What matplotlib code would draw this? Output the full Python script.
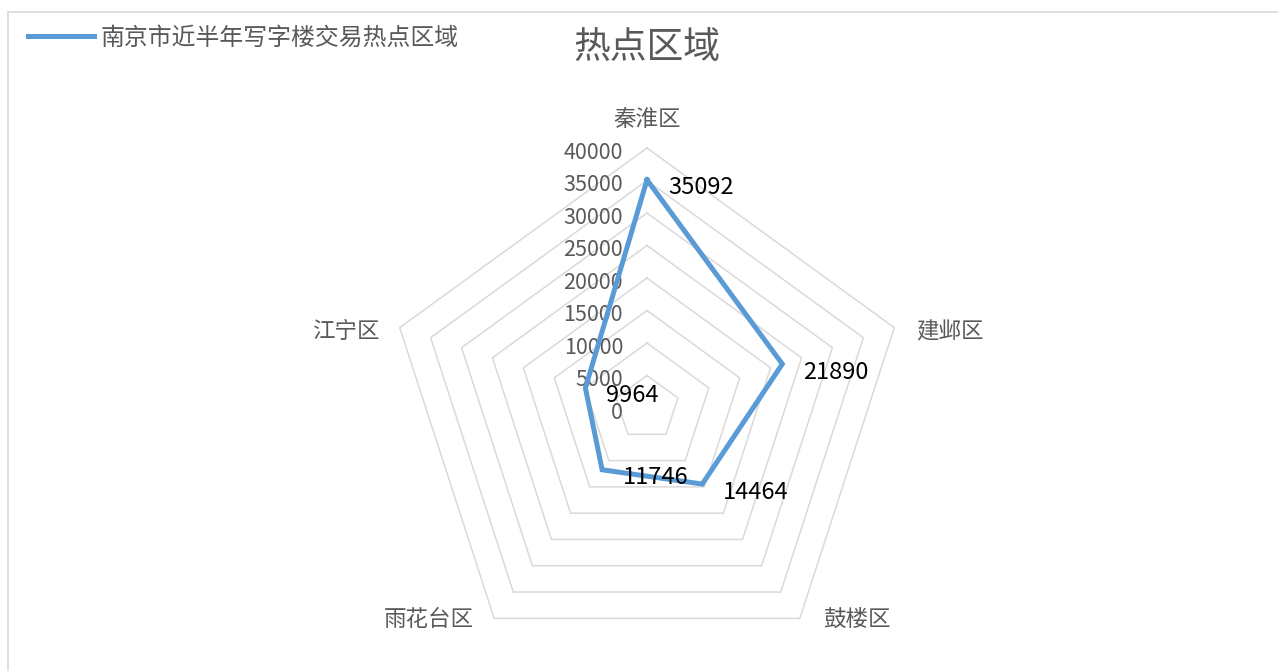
import numpy as np
import matplotlib
matplotlib.use("Agg")
import matplotlib.pyplot as plt
from matplotlib.patches import Rectangle

plt.rcParams['font.family'] = ['Noto Sans CJK SC', 'DejaVu Sans']

# data
districts = ['秦淮区', '建邺区', '鼓楼区', '雨花台区', '江宁区']
volumes = [35092, 21890, 14464, 11746, 9964]
levels = [0, 5000, 10000, 15000, 20000, 25000, 30000, 35000, 40000]
series_name = '南京市近半年写字楼交易热点区域'
chart_title = '热点区域'

blue = '#5B9BD5'
grey_txt = '#595959'
grid_c = '#D9D9D9'

W, H = 1278, 671
fig = plt.figure(figsize=(W / 100, H / 100), dpi=100)

# chart border (only top / left visible in the original crop)
fig.add_artist(Rectangle((8 / W, -0.1), 1.2, 1 - 12 / H + 0.1, transform=fig.transFigure,
                         fill=False, ec=grid_c, lw=1.2))

cx, cy, R = 647, 408, 260
ax = fig.add_axes([(cx - R) / W, (H - cy - R) / H, 2 * R / W, 2 * R / H], projection='polar')
ax.set_theta_offset(np.pi / 2)
ax.set_theta_direction(-1)
ax.set_ylim(0, 40000)
ax.grid(False)
ax.set_xticks([])
ax.set_yticks([])
ax.spines['polar'].set_visible(False)
ax.patch.set_alpha(0)

n = len(districts)
theta = np.linspace(0, 2 * np.pi, n, endpoint=False)
theta_c = np.append(theta, theta[0])

# pentagon grid
for lv in levels[1:]:
    ax.plot(theta_c, [lv] * (n + 1), color=grid_c, lw=1.1, clip_on=False, zorder=1)

# radial tick labels on the top spoke
for lv in levels:
    ax.annotate(str(lv), xy=(0, lv), xytext=(-24, -5), textcoords='offset pixels',
                ha='right', va='center', fontsize=15.5, color=grey_txt, zorder=2)

# series
vals_c = volumes + volumes[:1]
line, = ax.plot(theta_c, vals_c, color=blue, lw=3.6, solid_joinstyle='miter',
                clip_on=False, zorder=3, label=series_name)

# data labels
for t, v in zip(theta, volumes):
    ax.annotate(str(v), xy=(t, v), xytext=(21, -8), textcoords='offset pixels',
                ha='left', va='center', fontsize=17, color='black', zorder=4)

# category labels
cat_off = [(0, 28, 'center'), (22, -4, 'left'), (23, -1, 'left'), (-20, -1, 'right'), (-20, -4, 'right')]
for t, name, (dx, dy, ha) in zip(theta, districts, cat_off):
    ax.annotate(name, xy=(t, 40000), xytext=(dx, dy), textcoords='offset pixels',
                ha=ha, va='center', fontsize=16.2, color=grey_txt)

fig.text(cx / W, 1 - 48 / H, chart_title, ha='center', va='center', fontsize=26.5, color=grey_txt)

fig.legend(handles=[line], loc='center left', bbox_to_anchor=(28 / W, 1 - 38 / H),
           frameon=False, borderpad=0, borderaxespad=0, handlelength=2.75,
           handletextpad=0.3, fontsize=17.2, labelcolor=grey_txt)

fig.savefig('out.png', dpi=100, facecolor='white')
